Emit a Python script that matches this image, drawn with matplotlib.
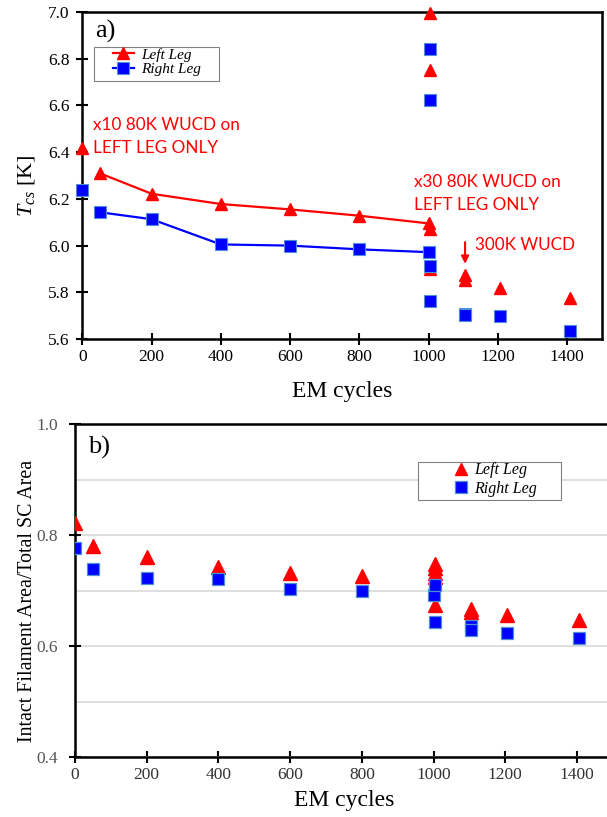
import numpy as np
import matplotlib
matplotlib.use("Agg")
import matplotlib.pyplot as plt
from matplotlib.patches import Rectangle

plt.rcParams['font.family'] = ['Liberation Serif', 'DejaVu Serif']
plt.rcParams['mathtext.fontset'] = 'custom'
plt.rcParams['mathtext.rm'] = 'Liberation Serif'
plt.rcParams['mathtext.it'] = 'Liberation Serif:italic'

# ---- panel a data: Tcs vs EM cycles ----
cyc_line = [50, 200, 400, 600, 800, 1000]
tcs_left_line = [6.31, 6.222, 6.178, 6.155, 6.128, 6.095]
tcs_right_line = [6.143, 6.113, 6.005, 6.0, 5.984, 5.972]

cyc_left_pts = [0, 1004, 1004, 1004, 1004, 1104, 1104, 1207, 1407]
tcs_left_pts = [6.42, 6.995, 6.752, 6.07, 5.90, 5.874, 5.852, 5.818, 5.776]
cyc_right_pts = [0, 1004, 1004, 1004, 1004, 1104, 1104, 1207, 1407]
tcs_right_pts = [6.238, 6.842, 6.625, 5.912, 5.764, 5.708, 5.701, 5.699, 5.636]

# ---- panel b data: intact filament area fraction ----
cyc_left_b = [0, 50, 200, 400, 600, 800, 1003, 1003, 1003, 1003, 1005, 1104, 1104, 1205, 1406]
area_left_b = [0.822, 0.780, 0.761, 0.743, 0.732, 0.726, 0.748, 0.740, 0.731, 0.725, 0.674,
               0.667, 0.661, 0.656, 0.646]
cyc_right_b = [0, 50, 200, 400, 600, 800, 1000, 1005, 1005, 1104, 1104, 1205, 1406]
area_right_b = [0.776, 0.739, 0.723, 0.720, 0.703, 0.699, 0.692, 0.710, 0.644, 0.636, 0.628,
                0.623, 0.614]

RED = '#FF0000'
BLUE = '#0000FF'
SQ_EDGE = '#4F8FD6'

fig = plt.figure(figsize=(6.07, 8.17), dpi=100)

# ================= panel a =================
ax1 = fig.add_axes([0.1356, 0.585, 0.856, 0.4003])
ax1.plot(cyc_line, tcs_left_line, color=RED, lw=1.6, marker='^', ms=9,
         mec=RED, mfc=RED, label='Left Leg', zorder=3)
ax1.plot(cyc_line, tcs_right_line, color=BLUE, lw=1.6, marker='s', ms=8,
         mec=SQ_EDGE, mew=0.8, mfc=BLUE, label='Right Leg', zorder=3)
ax1.plot(cyc_left_pts, tcs_left_pts, ls='none', marker='^', ms=9, color=RED,
         clip_on=False, zorder=3)
ax1.plot(cyc_right_pts, tcs_right_pts, ls='none', marker='s', ms=8, mfc=BLUE,
         mec=SQ_EDGE, mew=0.8, clip_on=False, zorder=4)

ax1.set_xlim(0, 1500)
ax1.set_ylim(5.6, 7.0)
ax1.set_xticks(np.arange(0, 1401, 200))
ax1.set_yticks(np.arange(5.6, 7.01, 0.2))
ax1.set_yticklabels([f'{v:.1f}' for v in np.arange(5.6, 7.01, 0.2)])
ax1.tick_params(direction='inout', length=8, width=1.5, labelsize=12.5, colors='black')
ax1.tick_params(axis='y', pad=5)
for s in ax1.spines.values():
    s.set_linewidth(1.8)
ax1.set_xlabel('EM cycles', fontsize=17, labelpad=11)
ax1.set_ylabel(r'$T_{cs}$ [K]', fontsize=16)
ax1.yaxis.set_label_coords(-0.088, 0.47)

ax1.text(0.024, 0.975, 'a)', transform=ax1.transAxes, fontsize=19, va='top', ha='left')

leg1 = ax1.legend(loc='upper left', bbox_to_anchor=(0.059, 0.89),
                  prop={'style': 'italic', 'size': 11}, frameon=False,
                  borderpad=0, labelspacing=0.05, handlelength=1.37,
                  handletextpad=0.48, borderaxespad=0)
ax1.add_patch(Rectangle((0.0226, 0.789), 0.2405, 0.104, transform=ax1.transAxes,
                        fill=False, edgecolor='#808080', lw=0.8, zorder=5))

ax1.text(30, 6.385, 'x10 80K WUCD on\nLEFT LEG ONLY', color=RED, fontsize=12.3,
         family='Lato', ha='left', va='bottom', linespacing=1.5)
ax1.text(957, 6.14, 'x30 80K WUCD on\nLEFT LEG ONLY', color=RED, fontsize=12.3,
         family='Lato', ha='left', va='bottom', linespacing=1.5)
ax1.text(1135, 6.003, '300K WUCD', color=RED, fontsize=12.3, family='Lato',
         ha='left', va='center')
ax1.annotate('', xy=(1105, 5.922), xytext=(1105, 6.015),
             arrowprops=dict(arrowstyle='-|>', color=RED, lw=1.5, mutation_scale=11,
                             shrinkA=0, shrinkB=0))

# ================= panel b =================
ax2 = fig.add_axes([0.1236, 0.0734, 0.886, 0.4076])
ax2.plot(cyc_left_b, area_left_b, ls='none', marker='^', ms=10, color=RED,
         label='Left Leg', zorder=3)
ax2.plot(cyc_right_b, area_right_b, ls='none', marker='s', ms=9, mfc=BLUE,
         mec=SQ_EDGE, mew=0.9, label='Right Leg', zorder=4)

ax2.set_xlim(0, 1500)
ax2.set_ylim(0.4, 1.0)
ax2.set_xticks(np.arange(0, 1401, 200))
ax2.set_yticks([0.4, 0.6, 0.8, 1.0])
ax2.set_yticklabels(['0.4', '0.6', '0.8', '1.0'])
ax2.set_yticks(np.arange(0.5, 0.95, 0.1), minor=True)
ax2.grid(True, which='both', axis='y', color='#D9D9D9', lw=1.2, zorder=0)
ax2.set_axisbelow(True)
ax2.tick_params(axis='x', direction='inout', length=8, width=1.5, labelsize=12.5,
                colors='black', labelcolor='#333333')
ax2.tick_params(axis='y', which='major', direction='inout', length=8, width=1.5,
                labelsize=12.5, labelcolor='#555555', pad=8)
ax2.tick_params(axis='y', which='minor', length=0)
for s in ax2.spines.values():
    s.set_linewidth(1.8)
ax2.set_xlabel('EM cycles', fontsize=17, labelpad=5)
ax2.set_ylabel('Intact Filament Area/Total SC Area', fontsize=14.3)
ax2.yaxis.set_label_coords(-0.071, 0.47)

ax2.text(0.024, 0.965, 'b)', transform=ax2.transAxes, fontsize=19, va='top', ha='left')

leg2 = ax2.legend(loc='upper left', bbox_to_anchor=(0.706, 0.885),
                  prop={'style': 'italic', 'size': 11.5}, frameon=False,
                  borderpad=0, labelspacing=0.15, handlelength=0.8,
                  handletextpad=0.4, borderaxespad=0, markerscale=0.9)
ax2.add_patch(Rectangle((0.6375, 0.7718), 0.2658, 0.114, transform=ax2.transAxes,
                        facecolor='white', edgecolor='#808080', lw=0.8, zorder=2.5))

fig.savefig('out.png', dpi=100)
